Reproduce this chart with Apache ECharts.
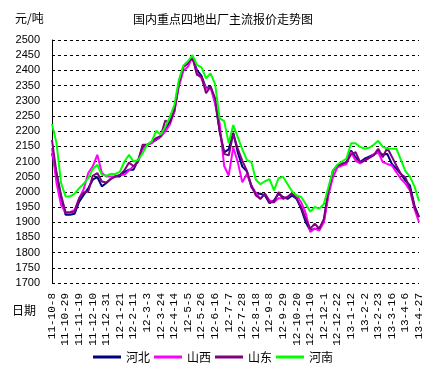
<!DOCTYPE html>
<html>
<head>
<meta charset="utf-8">
<script src="https://cdn.jsdelivr.net/npm/echarts@6/dist/echarts.min.js"></script>
<style>html,body{margin:0;padding:0;background:#fff}#c{width:433px;height:370px}</style>
</head>
<body>
<div id="c"></div>
<script>
var dates = ['11-10-8','11-10-15','11-10-22','11-10-29','11-11-5','11-11-12','11-11-19','11-11-26','11-12-3','11-12-10','11-12-17','11-12-24','11-12-31','12-1-7','12-1-14','12-1-21','12-1-28','12-2-4','12-2-11','12-2-18','12-2-25','12-3-3','12-3-10','12-3-17','12-3-24','12-3-31','12-4-7','12-4-14','12-4-21','12-4-28','12-5-5','12-5-12','12-5-19','12-5-26','12-6-2','12-6-9','12-6-16','12-6-23','12-6-30','12-7-7','12-7-14','12-7-21','12-7-28','12-8-4','12-8-11','12-8-18','12-8-25','12-9-1','12-9-8','12-9-15','12-9-22','12-9-29','12-10-6','12-10-13','12-10-20','12-10-27','12-11-3','12-11-10','12-11-17','12-11-24','12-12-1','12-12-8','12-12-15','12-12-22','12-12-29','13-1-5','13-1-12','13-1-19','13-1-26','13-2-2','13-2-9','13-2-16','13-2-23','13-3-2','13-3-9','13-3-16','13-3-23','13-3-30','13-4-6','13-4-13','13-4-20','13-4-27'];

var hebei = [2127,2060,1980,1925,1925,1928,1968,1990,2012,2040,2049,2018,2029,2043,2051,2051,2065,2073,2073,2105,2147,2155,2162,2171,2182,2204,2231,2264,2358,2412,2423,2440,2401,2382,2341,2347,2297,2200,2130,2140,2195,2130,2083,2068,2016,1994,1994,1988,1963,1972,1994,1983,1977,1988,1977,1944,1900,1873,1879,1879,1904,1994,2070,2087,2092,2098,2136,2114,2098,2109,2116,2123,2131,2123,2125,2092,2076,2059,2037,2021,1955,1917];
var shanxi = [2144,2029,1957,1932,1933,1941,1979,2009,2062,2084,2122,2062,2051,2051,2051,2056,2056,2071,2084,2100,2138,2155,2160,2174,2182,2199,2221,2264,2347,2399,2412,2445,2390,2374,2339,2344,2290,2226,2085,2054,2147,2098,2032,2059,2021,1997,1977,1994,1972,1966,1979,1979,1983,1996,1988,1966,1930,1868,1879,1873,1900,1988,2048,2081,2087,2092,2131,2103,2094,2103,2112,2123,2130,2098,2092,2087,2065,2043,2027,2005,1944,1900];
var shandong = [2171,2062,1990,1932,1932,1935,1979,1998,2001,2053,2062,2034,2031,2043,2051,2056,2071,2097,2084,2100,2155,2155,2166,2177,2184,2235,2226,2270,2358,2412,2425,2443,2385,2379,2325,2347,2308,2200,2125,2120,2191,2142,2103,2070,2021,1988,1977,1994,1966,1966,1999,1977,1983,1996,1977,1950,1911,1879,1895,1879,1911,2005,2068,2087,2092,2098,2123,2131,2098,2103,2112,2120,2142,2114,2145,2116,2087,2059,2048,2010,1950,1917];
var henan = [2223,2160,2029,1985,1985,1994,2012,2027,2045,2075,2089,2056,2053,2059,2059,2067,2100,2122,2100,2105,2127,2155,2166,2201,2188,2213,2246,2286,2368,2416,2430,2450,2418,2410,2374,2390,2355,2242,2233,2160,2220,2180,2140,2105,2098,2040,2025,2035,2042,2005,2045,2050,2025,2001,1988,1983,1960,1935,1950,1945,1960,2015,2070,2090,2100,2110,2160,2160,2148,2142,2145,2155,2168,2148,2143,2142,2142,2105,2068,2050,2018,1970];

var names = ['河北','山西','山东','河南'];
var colors = ['#000080','#FF00FF','#800080','#00FF00'];
var values = [hebei, shanxi, shandong, henan];

var chart = echarts.init(document.getElementById('c'), null, {renderer:'canvas'});
chart.setOption({
  animation: false,
  backgroundColor: '#fff',
  title: {
    text: '国内重点四地出厂主流报价走势图',
    left: 128, top: 8,
    textStyle: {fontFamily: 'Noto Sans CJK SC', fontSize: 12, fontWeight: 'normal', color: '#000'}
  },
  graphic: [
    {type:'text', left: 15, top: 12, style:{text:'元/吨', font:'12px "Noto Sans CJK SC"', fill:'#000'}},
    {type:'text', left: 12, top: 304, style:{text:'日期', font:'12px "Noto Sans CJK SC"', fill:'#000'}}
  ],
  legend: {
    data: names,
    left: 88, top: 346,
    icon: 'rect', itemWidth: 28, itemHeight: 3, itemGap: 4,
    textStyle: {fontFamily: 'Noto Sans CJK SC', fontSize: 12, color: '#000'}
  },
  grid: {left: 52, right: 14, top: 40, bottom: 87, containLabel: false},
  xAxis: {
    type: 'category', data: dates, boundaryGap: false,
    axisLine: {show: false}, axisTick: {show: false},
    axisLabel: {interval: 2, rotate: 90, margin: 10, fontFamily: 'Liberation Mono', fontSize: 11, color: '#000'},
    splitLine: {show: false}
  },
  yAxis: {
    type: 'value', min: 1700, max: 2500, interval: 50,
    axisLine: {show: true, lineStyle: {color: '#000', width: 1}},
    axisTick: {show: false},
    axisLabel: {margin: 12, fontFamily: 'Liberation Sans', fontSize: 11, color: '#000',
      formatter: function (v) { return String(v); }},
    splitLine: {show: true, lineStyle: {color: '#000', type: [3,3], width: 1}}
  },
  series: names.map(function(n, i){
    return {
      name: n, type: 'line', data: values[i], showSymbol: false, symbol: 'none',
      itemStyle: {color: colors[i]},
      lineStyle: {color: colors[i], width: 2}
    };
  })
});
</script>
</body>
</html>
